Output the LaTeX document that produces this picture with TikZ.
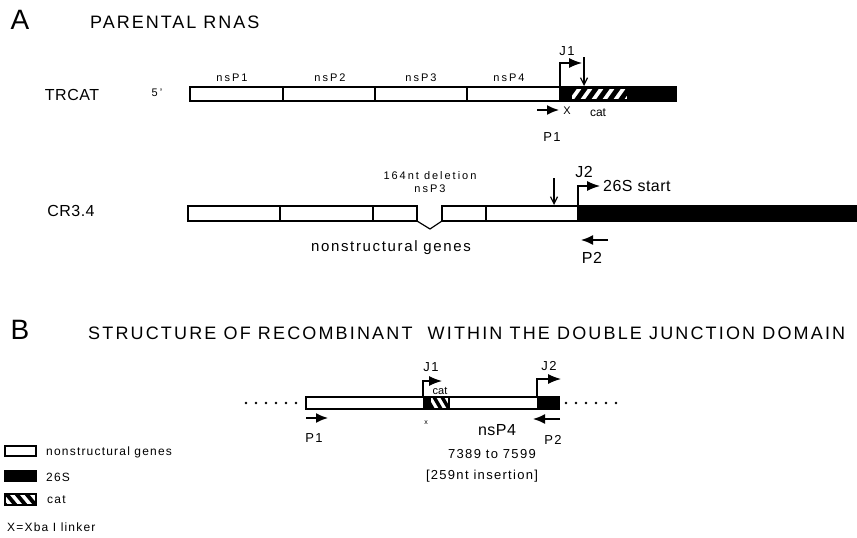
\documentclass[tikz,border=0pt]{standalone}
\usepackage{fontspec}
\setmainfont{Liberation Sans}
\usetikzlibrary{arrows.meta}
\tikzset{
  gene/.style={draw=black, line width=1.2pt, fill=white},
  sub/.style={draw=black, line width=1.2pt, fill=black},
  sep/.style={line width=1.1pt},
  lab/.style={inner sep=0pt, font=\fontsize{11}{12}\selectfont\addfontfeature{LetterSpace=18}},
  mid/.style={inner sep=0pt, font=\fontsize{13}{14}\selectfont\addfontfeature{LetterSpace=10}},
  key/.style={inner sep=0pt, anchor=west, font=\fontsize{12}{13}\selectfont\addfontfeature{LetterSpace=10}},
  big/.style={inner sep=0pt, font=\fontsize{16}{18}\selectfont\addfontfeature{LetterSpace=3}},
  head/.style={inner sep=0pt, anchor=west, font=\fontsize{18}{20}\selectfont\addfontfeature{LetterSpace=11}},
  panel/.style={inner sep=0pt, font=\fontsize{28}{30}\selectfont},
  primer/.style={line width=1.6pt, -{Latex[length=12pt,width=10pt]}},
  junction/.style={line width=1.2pt, -{Latex[length=13pt,width=10pt]}},
  site/.style={line width=1.2pt, -{Straight Barb[length=7pt,width=7pt]}},
}
\begin{document}
\begin{tikzpicture}[x=1pt,y=-1pt]
\useasboundingbox (0,0) rectangle (857,538);

% ---------------- panel A ----------------
\node[panel] (A) at (20,20) {A};
\node[head] (hA) at (90,22) {PARENTAL RNAS};

% TRCAT
\node[big] (trcat) at (72,95) {TRCAT};
\node[lab] (five) at (157,93) {5'};
\draw[gene] (190,87) rectangle (560,101);
\foreach \x in {283,375,467} \draw[sep] (\x,87) -- (\x,101);
\draw[sub] (560,87) rectangle (676,101);
\fill[white] (572,89) rectangle (627,99);
\begin{scope}
  \clip (572,89) rectangle (627,99);
  \foreach \x in {562,573,...,628} \fill[black] (\x,101) -- (\x+6,101) -- (\x+16,87) -- (\x+10,87) -- cycle;
\end{scope}
\node[lab] (n1) at (232,78) {nsP1};
\node[lab] (n2) at (330,78) {nsP2};
\node[lab] (n3) at (421,78) {nsP3};
\node[lab] (n4) at (509,78) {nsP4};
\coordinate (j1a) at (560,87);
\coordinate (j1b) at (582,63);
\draw[junction] (j1a) |- (j1b);
\node[mid] (J1a) at (567,51) {J1};
\coordinate (s1a) at (584,57);
\coordinate (s1b) at (584,86);
\draw[site] (s1a) -- (s1b);
\coordinate (p1a) at (537,110);
\coordinate (p1b) at (559,110);
\draw[primer] (p1a) -- (p1b);
\node[lab] (xa) at (567,111) {X};
\node[lab, font=\fontsize{12}{13}\selectfont] (cata) at (598,113) {cat};
\node[mid] (P1a) at (552,137) {P1};

% CR3.4
\node[big] (cr) at (71,211) {CR3.4};
\draw[gene] (188,206) rectangle (417,221);
\foreach \x in {280,373} \draw[sep] (\x,206) -- (\x,221);
\draw[line width=1.2pt, line join=round] (417,221) -- (430,229) -- (442,221);
\draw[gene] (442,206) rectangle (578,221);
\draw[sep] (486,206) -- (486,221);
\draw[sub] (578,206) rectangle (860,221);
\node[lab] (del) at (430,176) {164nt deletion};
\node[lab] (n3b) at (430,189) {nsP3};
\node[mid, font=\fontsize{15}{16}\selectfont\addfontfeature{LetterSpace=11}] (nsg) at (391,248) {nonstructural genes};
\coordinate (s2a) at (554,178);
\coordinate (s2b) at (554,205);
\draw[site] (s2a) -- (s2b);
\coordinate (j2a) at (578,206);
\coordinate (j2b) at (600,186);
\draw[junction] (j2a) |- (j2b);
\node[big] (J2a) at (584,172) {J2};
\node[big, anchor=west] (start) at (603,186) {26S start};
\coordinate (p2a) at (608,240);
\coordinate (p2b) at (581,240);
\draw[primer] (p2a) -- (p2b);
\node[big] (P2a) at (592,258) {P2};

% ---------------- panel B ----------------
\node[panel] (B) at (20,330) {B};
\node[head, font=\fontsize{18}{20}\selectfont\addfontfeature{LetterSpace=12}] (hB) at (88,333) {STRUCTURE OF RECOMBINANT\hspace{8pt} WITHIN THE DOUBLE JUNCTION DOMAIN};

\foreach \x in {246,256,...,296} \fill (\x,403) circle (1.4pt);
\foreach \x in {566,576,...,616} \fill (\x,403) circle (1.4pt);
\draw[gene] (306,397) rectangle (559,409);
\fill (423,397) rectangle (431,409);
\begin{scope}
  \clip (431,397) rectangle (449,409);
  \foreach \x in {424,432,...,448} \fill[black] (\x,397) -- (\x+4,397) -- (\x+11,409) -- (\x+7,409) -- cycle;
\end{scope}
\draw[sep] (449,397) -- (449,409);
\fill (537,397) rectangle (559,409);
\draw[line width=1.2pt] (306,397) rectangle (559,409);

\coordinate (j1c) at (423,397);
\coordinate (j1d) at (442,381);
\draw[junction] (j1c) |- (j1d);
\node[mid] (J1b) at (431,367) {J1};
\node[lab, font=\fontsize{11}{12}\selectfont] (catb) at (440,391) {cat};
\coordinate (j2c) at (537,397);
\coordinate (j2d) at (561,379);
\draw[junction] (j2c) |- (j2d);
\node[mid] (J2b) at (549,366) {J2};

\coordinate (p1c) at (306,418);
\coordinate (p1d) at (328,418);
\draw[primer] (p1c) -- (p1d);
\node[mid] (P1b) at (314,438) {P1};
\node[inner sep=0pt, font=\fontsize{7}{8}\selectfont] (xb) at (426,423) {x};
\coordinate (p2c) at (560,419);
\coordinate (p2d) at (533,419);
\draw[primer] (p2c) -- (p2d);
\node[mid] (P2b) at (553,440) {P2};
\node[big] (n4b) at (497,430) {nsP4};
\node[mid] (pos) at (492,454) {7389 to 7599};
\node[mid] (ins) at (482,476) {[259nt insertion]};

% ---------------- legend ----------------
\draw[gene] (5,446) rectangle (36,456);
\node[key] (lg1) at (46,452) {nonstructural genes};
\draw[sub] (5,471) rectangle (36,481);
\node[key] (lg2) at (46,477) {26S};
\draw[line width=1.2pt, fill=white] (5,494) rectangle (36,505);
\begin{scope}
  \clip (5,494) rectangle (36,505);
  \foreach \x in {-6,4,...,36} \fill[black] (\x,494) -- (\x+5,494) -- (\x+14,505) -- (\x+9,505) -- cycle;
\end{scope}
\draw[line width=1.2pt] (5,494) rectangle (36,505);
\node[key] (lg3) at (47,500) {cat};
\node[key] (lg4) at (7,527) {X=Xba I linker};
\end{tikzpicture}
\end{document}
